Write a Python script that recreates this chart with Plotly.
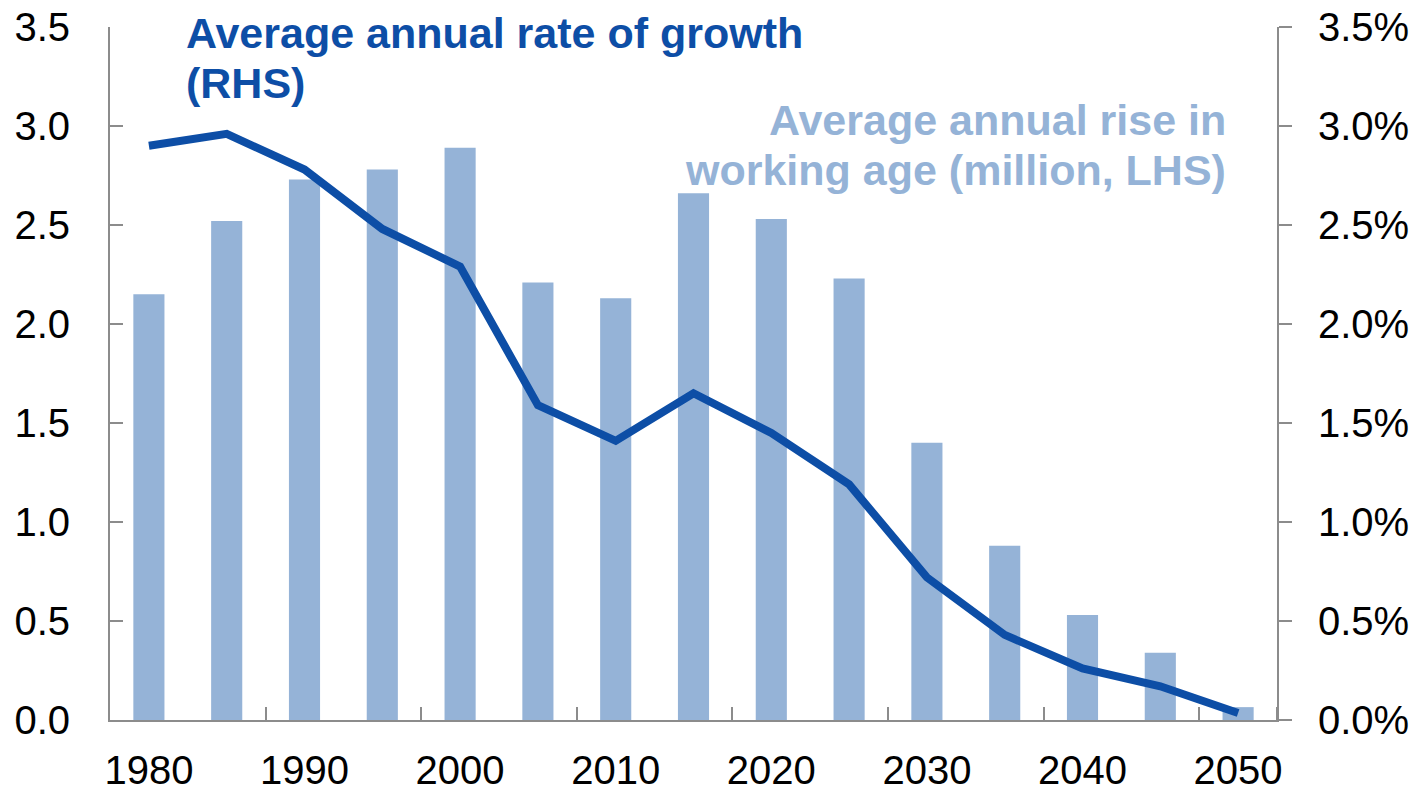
import plotly.graph_objects as go

# Five-year periods
years = [1980, 1985, 1990, 1995, 2000, 2005, 2010, 2015, 2020, 2025,
         2030, 2035, 2040, 2045, 2050]

# Average annual rise in working-age population (million, left axis)
rise_million = [2.15, 2.52, 2.73, 2.78, 2.89, 2.21, 2.13, 2.66, 2.53, 2.23,
                1.40, 0.88, 0.53, 0.34, 0.065]

# Average annual rate of growth (%, right axis)
growth_pct = [2.90, 2.96, 2.78, 2.48, 2.29, 1.59, 1.41, 1.65, 1.45, 1.19,
              0.72, 0.43, 0.26, 0.17, 0.035]

x_tick_years = [1980, 1990, 2000, 2010, 2020, 2030, 2040, 2050]
y_ticks = [0.0, 0.5, 1.0, 1.5, 2.0, 2.5, 3.0, 3.5]

BAR_BLUE = "#95b3d7"
LINE_BLUE = "#0d4ea6"
AXIS_GREY = "#8c8c8c"
FONT = "Liberation Sans, Arial, sans-serif"

fig = go.Figure()

fig.add_trace(go.Bar(
    x=years, y=rise_million, marker_color=BAR_BLUE, marker_line_width=0,
    width=2.0, yaxis="y", name="rise",
))

fig.add_trace(go.Scatter(
    x=years, y=growth_pct, mode="lines", yaxis="y2",
    line=dict(color=LINE_BLUE, width=8), name="growth",
))

minor_x = [y + 7.5 for y in x_tick_years[:-1]] + [2052.5]

fig.update_layout(
    width=1416, height=788,
    margin=dict(l=110, r=139, t=27, b=68),
    paper_bgcolor="white", plot_bgcolor="white",
    showlegend=False,
    font=dict(family=FONT, size=40, color="black"),
    xaxis=dict(
        range=[1977.5, 2052.5], tickmode="array", tickvals=x_tick_years,
        ticktext=[str(v) for v in x_tick_years], ticks="",
        showgrid=False, zeroline=False, automargin=False,
        showline=True, linecolor=AXIS_GREY, linewidth=2,
        ticklabelstandoff=14,
        minor=dict(tickmode="array", tickvals=minor_x, ticks="inside",
                   ticklen=13, tickwidth=2, tickcolor=AXIS_GREY, showgrid=False),
    ),
    yaxis=dict(
        range=[0, 3.5], tickmode="array", tickvals=y_ticks,
        ticktext=[f"{v:.1f}" for v in y_ticks],
        ticks="inside", ticklen=13, tickwidth=2, tickcolor=AXIS_GREY,
        showgrid=False, zeroline=False, automargin=False,
        showline=True, linecolor=AXIS_GREY, linewidth=2,
        ticklabelstandoff=30,
    ),
    yaxis2=dict(
        range=[0, 3.5], tickmode="array", tickvals=y_ticks,
        ticktext=[f"{v:.1f}%" for v in y_ticks],
        overlaying="y", side="right",
        ticks="outside", ticklen=13, tickwidth=2, tickcolor=AXIS_GREY,
        showgrid=False, zeroline=False, automargin=False,
        showline=True, linecolor=AXIS_GREY, linewidth=2,
        ticklabelstandoff=18,
    ),
)

ann_font_dark = dict(family=FONT, size=43, color=LINE_BLUE)
ann_font_light = dict(family=FONT, size=43, color=BAR_BLUE)

for text, ypx in [("<b>Average annual rate of growth</b>", 8),
                  ("<b>(RHS)</b>", 58)]:
    fig.add_annotation(
        text=text, xref="paper", yref="paper",
        x=(185 - 110) / 1167, y=(720 - ypx) / 693,
        xanchor="left", yanchor="top", showarrow=False,
        font=ann_font_dark, borderpad=0,
    )

for text, ypx in [("<b>Average annual rise in</b>", 95),
                  ("<b>working age (million, LHS)</b>", 145)]:
    fig.add_annotation(
        text=text, xref="paper", yref="paper",
        x=(1227 - 110) / 1167, y=(720 - ypx) / 693,
        xanchor="right", yanchor="top", align="right", showarrow=False,
        font=ann_font_light, borderpad=0,
    )

fig.write_html("out.html")
